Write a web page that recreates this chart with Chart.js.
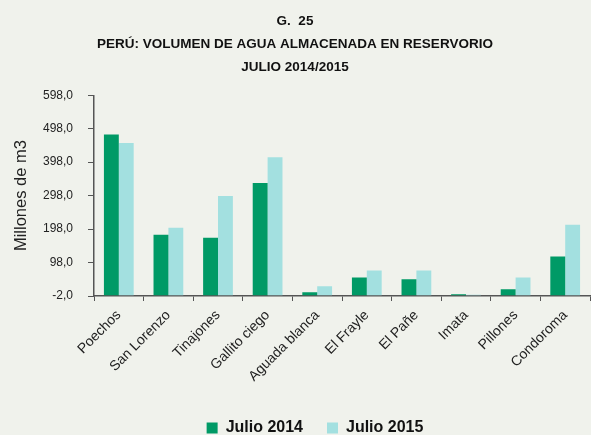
<!DOCTYPE html>
<html>
<head>
<meta charset="utf-8">
<script src="https://cdn.jsdelivr.net/npm/chart.js@4.4.1/dist/chart.umd.min.js"></script>
<style>
  html, body { margin: 0; padding: 0; background: #f0f2ec; }
  #wrap { width: 591px; height: 435px; position: relative; }
</style>
</head>
<body>
<div id="wrap"><canvas id="c" width="591" height="435"></canvas></div>
<script>
const categories = ["Poechos", "San Lorenzo", "Tinajones", "Gallito ciego", "Aguada blanca", "El Frayle", "El Pañe", "Imata", "Pillones", "Condoroma"];
const julio2014 = [481, 181, 172, 336, 9, 53, 48, 3, 18, 116];
const julio2015 = [455, 202, 297, 413, 27, 74, 74, 2, 53, 211];
const seriesNames = ["Julio 2014", "Julio 2015"];
const titleLines = ["G.  25", "PERÚ: VOLUMEN DE AGUA ALMACENADA EN RESERVORIO", "JULIO 2014/2015"];
const yAxisTitle = "Millones de m3";
const yMin = -2, yMax = 598, yStep = 100;

const FONT = 'Liberation Sans, Arial, sans-serif';

const bgPlugin = {
  id: 'bg',
  beforeDraw(chart) {
    const ctx = chart.ctx;
    ctx.save();
    ctx.fillStyle = '#f0f2ec';
    ctx.fillRect(0, 0, chart.width, chart.height);
    ctx.restore();
  }
};

// nudge the legend box (right and down) to match the reference placement
const legendShift = {
  id: 'legendShift',
  afterLayout(chart) {
    const lg = chart.legend;
    if (!lg) return;
    lg.left += 20; lg.right += 20;
    lg.top += 11; lg.bottom += 11;
  }
};

new Chart(document.getElementById('c'), {
  type: 'bar',
  data: {
    labels: categories,
    datasets: [
      { label: seriesNames[0], data: julio2014, backgroundColor: '#009a66', categoryPercentage: 0.6, barPercentage: 1.0 },
      { label: seriesNames[1], data: julio2015, backgroundColor: '#a3e0e0', categoryPercentage: 0.6, barPercentage: 1.0 }
    ]
  },
  options: {
    responsive: false,
    animation: false,
    devicePixelRatio: 1,
    layout: { padding: { left: 0, right: 1, top: 6, bottom: 0 } },
    plugins: {
      title: {
        display: true,
        text: titleLines,
        color: '#111',
        font: { family: FONT, size: 13.5, weight: 'bold', lineHeight: 1.71 },
        padding: { top: 4, bottom: 16 }
      },
      legend: {
        position: 'bottom',
        labels: {
          color: '#111',
          font: { family: FONT, size: 16, weight: 'bold' },
          boxWidth: 11,
          boxHeight: 11,
          padding: 24
        }
      },
      tooltip: { enabled: false }
    },
    scales: {
      x: {
        afterFit(scale) { scale.height = 89; },
        grid: { display: true, drawOnChartArea: false, offset: true, tickLength: 5, color: '#555' },
        border: { color: '#555', width: 1.5 },
        ticks: {
          color: '#222',
          font: { family: FONT, size: 14 },
          minRotation: 45, maxRotation: 45, padding: 6
        }
      },
      y: {
        min: yMin, max: yMax,
        afterFit(scale) { scale.width = 94; },
        ticks: {
          stepSize: yStep,
          color: '#222',
          font: { family: FONT, size: 12 },
          padding: 15,
          callback: v => v.toFixed(1).replace('.', ',')
        },
        grid: { display: true, drawOnChartArea: false, tickLength: 6, color: '#555' },
        border: { color: '#555', width: 1.5 },
        title: {
          display: true,
          text: yAxisTitle,
          color: '#222',
          font: { family: FONT, size: 16.5 },
          padding: { top: 12, bottom: 0 }
        }
      }
    }
  },
  plugins: [bgPlugin, legendShift]
});
</script>
</body>
</html>
